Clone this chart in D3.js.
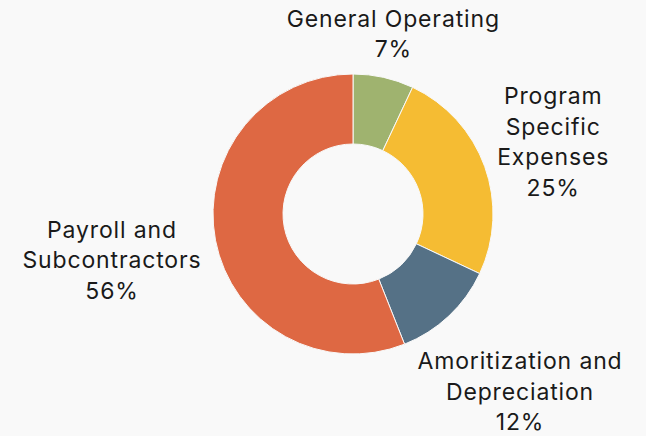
<!DOCTYPE html>
<html><head><meta charset="utf-8">
<script src="https://cdn.jsdelivr.net/npm/d3@7"></script>
<style>
html,body{margin:0;padding:0;background:#f9f9f9;}
svg{display:block;font-family:Inter, "Noto Sans", sans-serif;}
</style></head>
<body>
<svg id="chart" width="646" height="436"></svg>
<script>
const categories = ["General Operating", "Program Specific Expenses", "Amoritization and Depreciation", "Payroll and Subcontractors"];
const labelLines = [["General Operating"], ["Program", "Specific", "Expenses"], ["Amoritization and", "Depreciation"], ["Payroll and", "Subcontractors"]];
const values = [7, 25, 12, 56];
const colors = ["#9fb36f", "#f5bc33", "#557186", "#de6843"];

const W = 646, H = 436;
const cx = 353, cy = 214, R = 140, r = 70;
const fontSize = 23, lineH = 30.5;

const svg = d3.select("#chart");
svg.append("rect").attr("width", W).attr("height", H).attr("fill", "#f9f9f9");
const g = svg.append("g").attr("transform", `translate(${cx},${cy})`);

const total = d3.sum(values);
const pie = d3.pie().sort(null).value(d => d)(values);
const arc = d3.arc().innerRadius(r).outerRadius(R);

g.selectAll("path.slice").data(pie).join("path")
  .attr("class", "slice")
  .attr("d", arc)
  .attr("fill", (d, i) => colors[i])
  .attr("stroke", "#f9f9f9").attr("stroke-width", 1);

pie.forEach((d, i) => {
  const lines = labelLines[i].concat([Math.round(values[i] / total * 100) + "%"]);
  const lg = g.append("g");
  const t = lg.append("text").attr("text-anchor", "middle")
    .attr("font-size", fontSize).attr("letter-spacing", "0.85px").attr("fill", "#1a1a1a");
  lines.forEach((ln, k) => {
    t.append("tspan").attr("x", 0).attr("y", (k - (lines.length - 1) / 2) * lineH).attr("dy", "0.35em").text(ln);
  });
  const bb = t.node().getBBox();
  const w = bb.width, h = lines.length * lineH;
  const a = (d.startAngle + d.endAngle) / 2;
  const ux = Math.sin(a), uy = -Math.cos(a);
  const dist = R - 7 + 1.2 * (w / 2) * Math.abs(ux) + 0.8 * (h / 2) * Math.abs(uy);
  lg.attr("transform", `translate(${ux * dist},${uy * dist})`);
});
</script>
</body></html>
